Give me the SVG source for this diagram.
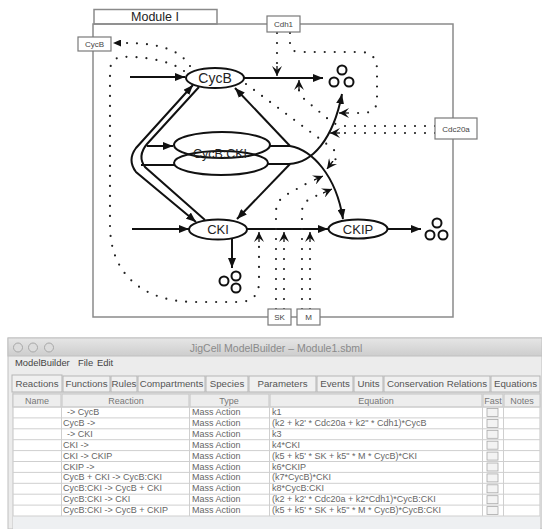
<svg xmlns="http://www.w3.org/2000/svg" width="542" height="529" viewBox="0 0 542 529">
<style>
.frame{fill:none;stroke:#8a8a8a;stroke-width:1.5}
.box{fill:#fff;stroke:#7a7a7a;stroke-width:1.2}
.node{fill:#fff;stroke:#111;stroke-width:2}
.ln{fill:none;stroke:#111;stroke-width:2}
.dot{fill:none;stroke:#222;stroke-width:2.2;stroke-linecap:round;stroke-dasharray:0 10}
.deg{fill:none;stroke:#111;stroke-width:2}
.lbl{font-family:"Liberation Sans",Arial,sans-serif;fill:#222;text-anchor:middle}
.sm{font-family:"Liberation Sans",Arial,sans-serif;fill:#444;text-anchor:middle;font-size:8px}
.ui{font-family:"Liberation Sans",Arial,sans-serif;fill:#666;font-size:9px}
.uic{font-family:"Liberation Sans",Arial,sans-serif;fill:#777;font-size:9px;text-anchor:middle}
.tab{fill:#f0f0f0;stroke:#b5b5b5;stroke-width:1}
.hdr{fill:#ededed;stroke:#c4c4c4;stroke-width:1}
.chk{fill:#f3f3f3;stroke:#a8a8a8;stroke-width:0.8}
</style>
<defs>
<marker id="ah" viewBox="0 0 10 8" refX="10" refY="4" markerWidth="10" markerHeight="8" markerUnits="userSpaceOnUse" orient="auto-start-reverse"><path d="M0,0 L10,4 L0,8 z" fill="#111"/></marker>
<marker id="mh" viewBox="0 0 10 10" refX="10" refY="5" markerWidth="10" markerHeight="10" markerUnits="userSpaceOnUse" orient="auto"><path d="M0,0 L10,5 L0,10 L4,5 z" fill="#111"/><path d="M0,5 L10,5" stroke="#111" stroke-width="1.3"/></marker>
<marker id="sh" viewBox="0 0 8 7" refX="8" refY="3.5" markerWidth="8" markerHeight="7" markerUnits="userSpaceOnUse" orient="auto"><path d="M0,0 L8,3.5 L0,7 z" fill="#111"/></marker>
<linearGradient id="tg" x1="0" y1="0" x2="0" y2="1"><stop offset="0" stop-color="#e6e6e6"/><stop offset="1" stop-color="#cdcdcd"/></linearGradient>
</defs>
<rect width="542" height="529" fill="#fff"/>

<g id="module">
<rect class="frame" x="93" y="24" width="360" height="293"/>
<rect class="frame" x="94" y="9.5" width="123" height="14.5" fill="#fff"/>
<text class="lbl" x="155" y="21" font-size="12.5">Module I</text>
</g>

<g id="connectors">
<path class="ln" d="M130,77 L185,77" marker-end="url(#ah)"/>
<path class="ln" d="M244,78 L323,78" marker-end="url(#ah)"/>
<path class="ln" d="M132,229 L189,229" marker-end="url(#ah)"/>
<path class="ln" d="M232,239 L232,268" marker-end="url(#ah)"/>
<path class="ln" d="M247,229 L328,229" marker-end="url(#ah)"/>
<path class="ln" d="M388,229 L421,229" marker-end="url(#ah)"/>
<path class="ln" d="M193,85 L136,148 Q127,160 136,172 L196,222" marker-start="url(#ah)" marker-end="url(#ah)"/>
<path class="ln" d="M199,87 L147,144 Q137,156 145,167 L205,220"/>
<path class="ln" d="M147,146 L173,146" marker-end="url(#ah)"/>
<path class="ln" d="M141,165 L174,165"/>
<path class="ln" d="M268,146 L290,146"/>
<path class="ln" d="M290,146 L235,88" marker-end="url(#ah)"/>
<path class="ln" d="M290,146 C312,150 336,175 343,219" marker-end="url(#ah)"/>
<path class="ln" d="M267,164 L290,164"/>
<path class="ln" d="M290,164 L237,219" marker-end="url(#ah)"/>
<path class="ln" d="M289,164 C312,163 333,140 342,94" marker-end="url(#ah)"/>

<path class="dot" d="M190,66 C180,50 160,43 124,43"/>
<path d="M124,43 L113,43" fill="none" marker-end="url(#sh)"/>
<path class="dot" d="M184,71 C170,60 140,56 122,57 Q110,58 110,72 L110,225 C110,280 150,302 195,302 L238,302 Q259,302 259,282 L259,240"/>
<path d="M259,242 L259,232" fill="none" marker-end="url(#mh)"/>
<path class="dot" d="M277,33 L277,66"/>
<path d="M277,66 L277,76" fill="none" marker-end="url(#mh)"/>
<path class="dot" d="M290,33 L290,45 Q291,52 300,52 L360,52 Q377,52 377,70 L377,100 Q377,113 362,113 L350,113"/>
<path d="M349,113 L339,113" fill="none" marker-end="url(#mh)"/>
<path class="dot" d="M435,126 L345,126 Q336,126 328,119 L303,98 Q299,94 299,90"/>
<path d="M299,90 L299,80" fill="none" marker-end="url(#mh)"/>
<path class="dot" d="M435,133 L342,133"/>
<path d="M340,133 L330,133" fill="none" marker-end="url(#mh)"/>
<path class="dot" d="M246,84 L328,145 Q340,153 335,160"/>
<path d="M333,161 L327,169" fill="none" marker-end="url(#mh)"/>
<path class="dot" d="M276,309 L276,212 Q276,201 286,195 L313,180"/>
<path d="M314,180 L323,176" fill="none" marker-end="url(#mh)"/>
<path class="dot" d="M284,309 L284,242"/>
<path d="M284,242 L284,232" fill="none" marker-end="url(#mh)"/>
<path class="dot" d="M302,309 L302,212 Q302,203 310,199 L322,193"/>
<path d="M323,193 L332,189" fill="none" marker-end="url(#mh)"/>
<path class="dot" d="M310,309 L310,242"/>
<path d="M310,242 L310,232" fill="none" marker-end="url(#mh)"/>
</g>

<g id="deg1"><circle class="deg" cx="342" cy="70" r="4.5"/><circle class="deg" cx="334" cy="82" r="4.5"/><circle class="deg" cx="349" cy="82" r="4.5"/></g>
<g id="deg2"><circle class="deg" cx="236" cy="276" r="4.5"/><circle class="deg" cx="224" cy="281" r="4.5"/><circle class="deg" cx="236" cy="288" r="4.5"/></g>
<g id="deg3"><circle class="deg" cx="437" cy="223" r="4.5"/><circle class="deg" cx="430" cy="235" r="4.5"/><circle class="deg" cx="443" cy="235" r="4.5"/></g>

<g id="CycB"><ellipse class="node" cx="215" cy="78" rx="29" ry="10"/><text class="lbl" x="215" y="83" font-size="14">CycB</text></g>
<g id="CycB_CKI"><ellipse cx="222" cy="145" rx="48" ry="13" fill="#fff" stroke="#111" stroke-width="2"/><ellipse cx="221" cy="163" rx="47" ry="12" fill="none" stroke="#111" stroke-width="2"/><text class="lbl" x="220" y="158" font-size="12.5">CycB:CKI</text></g>
<g id="CKI"><ellipse class="node" cx="218" cy="229.5" rx="29" ry="10"/><text class="lbl" x="218" y="234" font-size="13">CKI</text></g>
<g id="CKIP"><ellipse class="node" cx="358" cy="229" rx="29.5" ry="9.5"/><text class="lbl" x="358" y="233.5" font-size="13">CKIP</text></g>
<g id="CycB_ext"><rect class="box" x="78" y="37" width="33" height="14"/><text class="sm" x="94.5" y="47">CycB</text></g>
<g id="Cdh1"><rect class="box" x="267" y="16" width="33" height="16"/><text class="sm" x="283.5" y="27" font-size="8.5">Cdh1</text></g>
<g id="Cdc20a"><rect class="box" x="435" y="118" width="42" height="21"/><text class="sm" x="456" y="131.5">Cdc20a</text></g>
<g id="SK"><rect class="box" x="268" y="309" width="23" height="16"/><text class="sm" x="279.5" y="320">SK</text></g>
<g id="M"><rect class="box" x="297" y="309" width="23" height="16"/><text class="sm" x="308.5" y="320">M</text></g>

<g id="window">
<rect x="8" y="338" width="534" height="191" fill="#ececec" stroke="#c0c0c0"/>
<rect x="8" y="338" width="534" height="18" fill="url(#tg)" stroke="#c0c0c0"/>
<circle cx="18" cy="347.5" r="4.5" fill="#dcdcdc" stroke="#a8a8a8"/>
<circle cx="33" cy="347.5" r="4.5" fill="#dcdcdc" stroke="#a8a8a8"/>
<circle cx="49" cy="347.5" r="4.5" fill="#dcdcdc" stroke="#a8a8a8"/>
<text x="276" y="351.5" font-family="Liberation Sans, Arial, sans-serif" font-size="10.5" fill="#8a8a8a" text-anchor="middle">JigCell ModelBuilder – Module1.sbml</text>
<text x="15" y="366" font-family="Liberation Sans, Arial, sans-serif" font-size="9.4" fill="#444">ModelBuilder</text>
<text x="78" y="366" font-family="Liberation Sans, Arial, sans-serif" font-size="9.4" fill="#444">File</text>
<text x="97" y="366" font-family="Liberation Sans, Arial, sans-serif" font-size="9.4" fill="#444">Edit</text>
</g>
<g id="tabs" font-family="Liberation Sans, Arial, sans-serif" font-size="9.7" fill="#555" text-anchor="middle">
<rect class="tab" x="12" y="375" width="50" height="17" fill="#fafafa"/><text x="37" y="387">Reactions</text>
<rect class="tab" x="63" y="376" width="47" height="16"/><text x="86.5" y="387">Functions</text>
<rect class="tab" x="111" y="376" width="26" height="16"/><text x="124" y="387">Rules</text>
<rect class="tab" x="138" y="376" width="67" height="16"/><text x="171.5" y="387">Compartments</text>
<rect class="tab" x="206" y="376" width="42" height="16"/><text x="227" y="387">Species</text>
<rect class="tab" x="249" y="376" width="67" height="16"/><text x="282.5" y="387">Parameters</text>
<rect class="tab" x="317" y="376" width="36" height="16"/><text x="335" y="387">Events</text>
<rect class="tab" x="354" y="376" width="29" height="16"/><text x="368.5" y="387">Units</text>
<rect class="tab" x="384" y="376" width="106" height="16"/><text x="437" y="387">Conservation Relations</text>
<rect class="tab" x="491" y="376" width="49" height="16"/><text x="515.5" y="387">Equations</text>
</g>
<g id="table">
<rect x="13" y="393" width="527" height="136" fill="#fff" stroke="#c4c4c4"/>
<rect x="13" y="516" width="527" height="13" fill="#eef0f2" stroke="none"/>
<rect class="hdr" x="13" y="394" width="48" height="13"/>
<rect class="hdr" x="62" y="394" width="127" height="13"/>
<rect class="hdr" x="190" y="394" width="79" height="13"/>
<rect class="hdr" x="270" y="394" width="212" height="13"/>
<rect class="hdr" x="483" y="394" width="20" height="13"/>
<rect class="hdr" x="504" y="394" width="36" height="13"/>
<text class="uic" x="37" y="404">Name</text>
<text class="uic" x="126" y="404">Reaction</text>
<text class="uic" x="229" y="404">Type</text>
<text class="uic" x="376" y="404">Equation</text>
<text class="uic" x="493" y="404">Fast</text>
<text class="uic" x="522" y="404">Notes</text>
<g fill="none" stroke="#cfcfcf" stroke-width="1">
<path d="M13,407 H540 M13,417.9 H540 M13,428.8 H540 M13,439.7 H540 M13,450.6 H540 M13,461.5 H540 M13,472.4 H540 M13,483.3 H540 M13,494.2 H540 M13,505.1 H540 M13,516 H540"/>
<path d="M61.5,407 V516 M189.5,407 V516 M269.5,407 V516 M482.5,407 V516 M503.5,407 V516"/>
</g>
<g>
<rect class="chk" x="487" y="408.5" width="11" height="8"/>
<rect class="chk" x="487" y="419.4" width="11" height="8"/>
<rect class="chk" x="487" y="430.3" width="11" height="8"/>
<rect class="chk" x="487" y="441.2" width="11" height="8"/>
<rect class="chk" x="487" y="452.1" width="11" height="8"/>
<rect class="chk" x="487" y="463" width="11" height="8"/>
<rect class="chk" x="487" y="473.9" width="11" height="8"/>
<rect class="chk" x="487" y="484.8" width="11" height="8"/>
<rect class="chk" x="487" y="495.7" width="11" height="8"/>
<rect class="chk" x="487" y="506.6" width="11" height="8"/>
</g>
<g class="ui">
<text x="67" y="415">-&gt; CycB</text><text x="192" y="415">Mass Action</text><text x="272" y="415">k1</text>
<text x="63" y="425.9">CycB -&gt;</text><text x="192" y="425.9">Mass Action</text><text x="272" y="425.9">(k2 + k2' * Cdc20a + k2" * Cdh1)*CycB</text>
<text x="67" y="436.8">-&gt; CKI</text><text x="192" y="436.8">Mass Action</text><text x="272" y="436.8">k3</text>
<text x="63" y="447.7">CKI -&gt;</text><text x="192" y="447.7">Mass Action</text><text x="272" y="447.7">k4*CKI</text>
<text x="63" y="458.6">CKI -&gt; CKIP</text><text x="192" y="458.6">Mass Action</text><text x="272" y="458.6">(k5 + k5' * SK + k5" * M * CycB)*CKI</text>
<text x="63" y="469.5">CKIP -&gt;</text><text x="192" y="469.5">Mass Action</text><text x="272" y="469.5">k6*CKIP</text>
<text x="63" y="480.4">CycB + CKI -&gt; CycB:CKI</text><text x="192" y="480.4">Mass Action</text><text x="272" y="480.4">(k7*CycB)*CKI</text>
<text x="63" y="491.3">CycB:CKI -&gt; CycB + CKI</text><text x="192" y="491.3">Mass Action</text><text x="272" y="491.3">k8*CycB:CKI</text>
<text x="63" y="502.2">CycB:CKI -&gt; CKI</text><text x="192" y="502.2">Mass Action</text><text x="272" y="502.2">(k2 + k2' * Cdc20a + k2*Cdh1)*CycB:CKI</text>
<text x="63" y="513.1">CycB:CKI -&gt; CycB + CKIP</text><text x="192" y="513.1">Mass Action</text><text x="272" y="513.1">(k5 + k5' * SK + k5" * M * CycB)*CycB:CKI</text>
</g>
</g>
</svg>
